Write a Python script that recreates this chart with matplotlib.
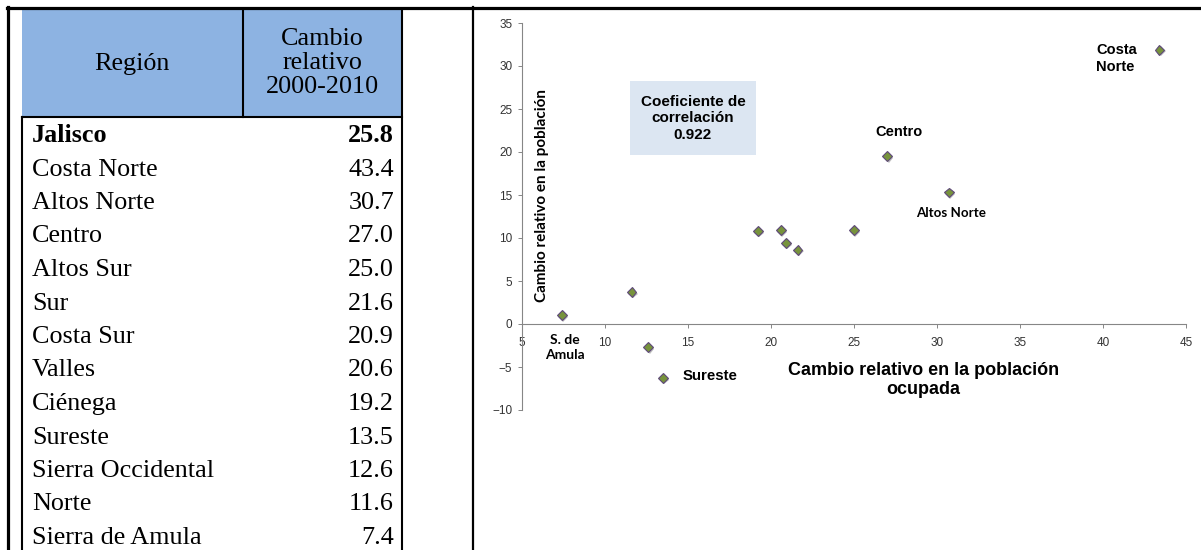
import matplotlib
matplotlib.use("Agg")
import matplotlib.pyplot as plt
import matplotlib.patheffects as pe
from matplotlib.patches import Rectangle

# ---- data -------------------------------------------------------------------
REGIONES = ["Jalisco", "Costa Norte", "Altos Norte", "Centro", "Altos Sur", "Sur",
            "Costa Sur", "Valles", "Ciénega", "Sureste", "Sierra Occidental",
            "Norte", "Sierra de Amula"]
CAMBIO_OCUPADA = [25.8, 43.4, 30.7, 27.0, 25.0, 21.6, 20.9, 20.6, 19.2, 13.5, 12.6, 11.6, 7.4]
# relative change in population (scatter y), same order without Jalisco
CAMBIO_POBLACION = [31.9, 15.3, 19.5, 10.9, 8.6, 9.4, 10.9, 10.8, -6.3, -2.7, 3.7, 1.0]
X_TICKS = [5, 10, 15, 20, 25, 30, 35, 40, 45]
Y_TICKS = [-10, -5, 0, 5, 10, 15, 20, 25, 30, 35]
CORRELACION = 0.922

W, H = 1201, 550
fig = plt.figure(figsize=(W / 100, H / 100), dpi=100)

# ---- overlay in pixel coords for the frame + table --------------------------
bg = fig.add_axes([0, 0, 1, 1])
bg.set_xlim(0, W)
bg.set_ylim(H, 0)
bg.axis("off")

serif = "Liberation Serif"
fs_tab = 18.8
bg.add_patch(Rectangle((22, 10), 380, 107, facecolor="#8DB3E2", edgecolor="none"))
bg.plot([7, W], [8, 8], color="black", lw=2.3)
bg.plot([8, 8], [7, H], color="black", lw=2.3)
bg.plot([473, 473], [7, H], color="black", lw=1.6)
bg.plot([243, 243], [10, 117], color="black", lw=1.5)
bg.plot([22, 402], [117, 117], color="black", lw=1.5)
bg.plot([22, 22], [117, H], color="black", lw=1.5)
bg.plot([402, 402], [10, H], color="black", lw=1.5)

bg.text(132, 64, "Región", family=serif, fontsize=fs_tab, ha="center", va="center")
bg.text(322, 63, "Cambio\nrelativo\n2000-2010", family=serif, fontsize=fs_tab,
        ha="center", va="center", linespacing=1.12)

for i, (reg, val) in enumerate(zip(REGIONES, CAMBIO_OCUPADA)):
    y = 136 + i * 33.5
    w = "bold" if i == 0 else "normal"
    bg.text(32, y, reg, family=serif, fontsize=fs_tab, fontweight=w, ha="left", va="center")
    bg.text(394, y, f"{val:.1f}", family=serif, fontsize=fs_tab, fontweight=w,
            ha="right", va="center")

# ---- scatter ----------------------------------------------------------------
ax = fig.add_axes([522 / W, 1 - 410 / H, (1186 - 522) / W, (410 - 23) / H])
ax.patch.set_alpha(0)
ax.set_xlim(5, 45)
ax.set_ylim(-10, 35)
for s in ("top", "right"):
    ax.spines[s].set_visible(False)
ax.spines["bottom"].set_position(("data", 0))
for s in ("left", "bottom"):
    ax.spines[s].set_color("#868686")
    ax.spines[s].set_linewidth(0.8)
ax.set_xticks(X_TICKS)
ax.set_yticks(Y_TICKS)
ax.tick_params(axis="both", direction="out", length=3, width=0.7, color="#868686",
               labelsize=8.5, labelcolor="#333333")
ax.tick_params(axis="x", pad=6)
ax.tick_params(axis="y", pad=4)
for lab in ax.get_xticklabels() + ax.get_yticklabels():
    lab.set_family("Liberation Sans")

ax.plot(CAMBIO_OCUPADA[1:], CAMBIO_POBLACION, linestyle="none", marker="D", ms=5,
        mfc="#77933C", mec="#5F497A", mew=0.8, zorder=3,
        path_effects=[pe.SimplePatchShadow(offset=(1, -1), shadow_rgbFace="gray", alpha=0.5),
                      pe.Normal()])

arial = "Liberation Sans"
calibri = "Lato"
ax.text(39.6, 30.9, "Costa\nNorte", family=arial, fontweight="bold", fontsize=10.5,
        ha="left", va="center", linespacing=1.3)
ax.text(26.3, 22.3, "Centro", family=arial, fontweight="bold", fontsize=10.5,
        ha="left", va="center")
ax.text(30.85, 12.9, "Altos Norte", family=calibri, fontweight="bold", fontsize=9.6,
        ha="center", va="center")
ax.text(7.6, -2.75, "S. de\nAmula", family=calibri, fontweight="bold", fontsize=10,
        ha="center", va="center", linespacing=1.3)
ax.text(14.7, -6.05, "Sureste", family=arial, fontweight="bold", fontsize=10.8,
        ha="left", va="center")

ax.add_patch(Rectangle((11.5, 19.65), 7.6, 8.65, facecolor="#DCE6F2", edgecolor="none",
                       zorder=1))
ax.text(15.3, 23.9, f"Coeficiente de\ncorrelación\n{CORRELACION}", family=arial,
        fontweight="bold", fontsize=11, ha="center", va="center", linespacing=1.25, zorder=2)

ax.text(6.2, 14.9, "Cambio relativo en la población", family=calibri, fontweight="bold",
        fontsize=11, rotation=90, ha="center", va="center")
ax.text(29.2, -6.5, "Cambio relativo en la población\nocupada", family=arial,
        fontweight="bold", fontsize=13, ha="center", va="center", linespacing=1.1)

fig.savefig("out.png", dpi=100)
